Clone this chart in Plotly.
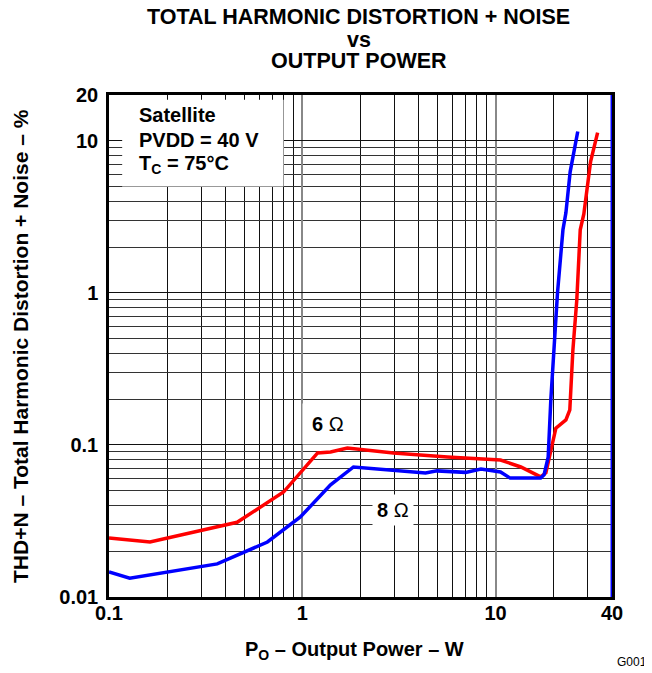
import plotly.graph_objects as go

# 6 ohm curve (red)
power_6ohm = [0.1, 0.163, 0.46, 0.80, 1.20, 1.40, 1.71, 2.96, 5.63, 10.6, 13.5, 17.1,
              18.2, 19.3, 20.5, 23.1, 24.2, 25.1, 26.3, 27.4, 28.6, 31.0, 33.7]
thdn_6ohm = [0.0244, 0.023, 0.031, 0.049, 0.0886, 0.0898, 0.0955, 0.0886, 0.0834, 0.0796,
             0.0716, 0.0616, 0.0655, 0.0927, 0.129, 0.146, 0.17, 0.42, 0.9, 2.6, 3.3, 7.3, 11.3]

# 8 ohm curve (blue)
power_8ohm = [0.1, 0.128, 0.363, 0.66, 0.977, 1.40, 1.84, 2.86, 4.34, 4.98, 7.0, 8.4,
              10.6, 11.9, 17.1, 17.8, 18.7, 19.3, 20.0, 20.9, 22.3, 23.1, 24.3, 26.6]
thdn_8ohm = [0.0146, 0.0133, 0.0165, 0.023, 0.0336, 0.0546, 0.0716, 0.0685, 0.0655, 0.0675,
             0.066, 0.0695, 0.0664, 0.0605, 0.0605, 0.0636, 0.083, 0.198, 0.42, 1.0, 2.6,
             3.36, 6.25, 11.5]

x_major = [0.1, 1, 10, 40]
x_major_text = ["0.1", "1", "10", "40"]
x_minor = [0.2, 0.3, 0.4, 0.5, 0.6, 0.7, 0.8, 0.9, 2, 3, 4, 5, 6, 7, 8, 9, 20, 30]
y_major = [0.01, 0.1, 1, 10, 20]
y_major_text = ["0.01", "0.1", "1", "10", "20"]
y_minor = [0.02, 0.03, 0.04, 0.05, 0.06, 0.07, 0.08, 0.09,
           0.2, 0.3, 0.4, 0.5, 0.6, 0.7, 0.8, 0.9,
           2, 3, 4, 5, 6, 7, 8, 9]

title_lines = ["TOTAL HARMONIC DISTORTION + NOISE", "vs", "OUTPUT POWER"]
condition_lines = ["Satellite", "PVDD = 40 V", "T<sub>C</sub> = 75°C"]

FONT = "Liberation Sans, Arial, sans-serif"
BOLD = dict(family=FONT, size=20, color="black", weight="bold")

fig = go.Figure()
fig.add_trace(go.Scatter(x=power_6ohm, y=thdn_6ohm, mode="lines",
                         line=dict(color="#ff0000", width=3.5), showlegend=False))
fig.add_trace(go.Scatter(x=power_8ohm, y=thdn_8ohm, mode="lines",
                         line=dict(color="#0000ff", width=3.5), showlegend=False))

fig.update_xaxes(
    type="log", range=[-1, 1.60206],
    tickmode="array", tickvals=x_major, ticktext=x_major_text,
    showgrid=True, gridcolor="#888888", gridwidth=1.5,
    minor=dict(tickvals=x_minor, showgrid=True, gridcolor="#111111", gridwidth=1, ticks=""),
    showline=True, linecolor="black", linewidth=2.5, mirror=True, ticks="",
    ticklabelstandoff=-4, tickfont=BOLD, zeroline=False, automargin=False,
)
fig.update_yaxes(
    type="log", range=[-2, 1.30103],
    tickmode="array", tickvals=y_major, ticktext=y_major_text,
    showgrid=True, gridcolor="#111111", gridwidth=1,
    minor=dict(tickvals=y_minor, showgrid=True, gridcolor="#333333", gridwidth=1, ticks=""),
    showline=True, linecolor="black", linewidth=2.5, mirror=True, ticks="",
    ticklabelstandoff=4, tickfont=BOLD, zeroline=False, automargin=False,
)

# white panel behind the test conditions
fig.add_shape(type="rect", xref="x", yref="y", x0=0.117, x1=0.8, y0=5, y1=18.6,
              fillcolor="white", line=dict(width=0), layer="between")
# blue right edge
fig.add_shape(type="line", xref="x", yref="paper", x0=40, x1=40, y0=0, y1=1,
              line=dict(color="#0000ff", width=3), layer="above")

for line, ypos in zip(title_lines, [1.1544, 1.1096, 1.0677]):
    fig.add_annotation(xref="paper", yref="paper", x=0.497, y=ypos, text=line,
                       showarrow=False, xanchor="center", yanchor="middle",
                       font=dict(BOLD, size=21.5))

for line, ypos in zip(condition_lines, [0.9602, 0.9104, 0.8606]):
    fig.add_annotation(xref="paper", yref="paper", x=0.0557, y=ypos, text=line,
                       xanchor="left", yanchor="middle", showarrow=False, font=BOLD)

fig.add_annotation(xref="paper", yref="paper", x=-0.1769, y=0.5, textangle=-90,
                   xanchor="center", yanchor="middle",
                   text="THD+N – Total Harmonic Distortion + Noise – %",
                   showarrow=False, font=dict(BOLD, size=21))
fig.add_annotation(xref="paper", yref="paper", x=0.489, y=-0.1056,
                   xanchor="center", yanchor="middle",
                   text="P<sub>O</sub> – Output Power – W", showarrow=False, font=BOLD)
fig.add_annotation(xref="paper", yref="paper", x=1.073, y=-0.1295,
                   xanchor="right", yanchor="middle",
                   text="G001", showarrow=False,
                   font=dict(family=FONT, size=12, color="black"))

fig.add_annotation(x=0.132, y=-0.862, xref="x", yref="y", text="<b>6</b> Ω",
                   showarrow=False, bgcolor="white", borderpad=9,
                   font=dict(family=FONT, size=20, color="black"))
fig.add_annotation(x=0.4715, y=-1.428, xref="x", yref="y", text="<b>8</b> Ω",
                   showarrow=False, bgcolor="white", borderpad=4,
                   font=dict(family=FONT, size=20, color="black"))

# page body adds an 8 px offset, so the figure is 8 px smaller than the window
fig.update_layout(
    width=644, height=665,
    margin=dict(l=101, r=40, t=87, b=76),
    plot_bgcolor="white", paper_bgcolor="white",
    showlegend=False,
)

fig.write_html("out.html")
